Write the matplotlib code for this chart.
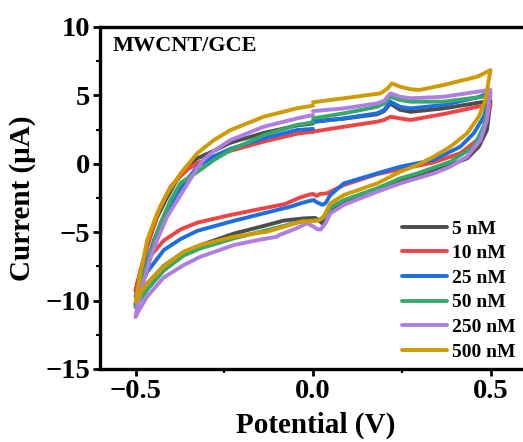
import matplotlib
matplotlib.use("Agg")
import matplotlib.pyplot as plt
from matplotlib.ticker import MultipleLocator

labels = ["5 nM", "10 nM", "25 nM", "50 nM", "250 nM", "500 nM"]
colors = ["#4d4d4d", "#f04444", "#1d6fe0", "#35a96a", "#b07ee2", "#cf9b00"]

# scan order: 0 V -> +0.5 V (upper) -> -0.5 V (lower) -> 0 V (upper)
v_5 = [0.0, 0.087, 0.181, 0.2, 0.218, 0.245, 0.275, 0.368, 0.463, 0.5,
       0.49, 0.467, 0.434, 0.387, 0.294, 0.246, 0.181, 0.087, 0.049, 0.035, 0.026, 0.015, 0.005, -0.03, -0.082, -0.14, -0.223, -0.317, -0.364, -0.42, -0.467, -0.495, -0.5,
       -0.495, -0.486, -0.467, -0.439, -0.411, -0.383, -0.35, -0.326, -0.279, -0.232, -0.139, -0.045, 0.0]
i_5 = [3.1, 3.3, 3.62, 3.85, 4.4, 3.95, 3.8, 4.05, 4.45, 4.6,
       2.47, 1.25, 0.4, -0.09, -0.82, -1.18, -1.95, -2.77, -3.33, -3.7, -4.35, -4.1, -3.95, -4.0, -4.15, -4.55, -5.1, -5.95, -6.45, -7.45, -8.75, -9.9, -10.3,
       -9.6, -8.3, -5.9, -3.9, -2.45, -1.15, -0.15, 0.4, 0.95, 1.55, 2.25, 2.8, 2.95]

v_10 = [0.0, 0.087, 0.181, 0.2, 0.218, 0.245, 0.275, 0.368, 0.463, 0.5,
        0.486, 0.463, 0.415, 0.34, 0.275, 0.181, 0.087, 0.049, 0.04, 0.02, 0.01, 0.0, -0.01, -0.035, -0.08, -0.139, -0.232, -0.326, -0.373, -0.42, -0.467, -0.495, -0.5,
        -0.495, -0.486, -0.458, -0.43, -0.401, -0.373, -0.35, -0.326, -0.279, -0.232, -0.139, -0.045, 0.0]
i_10 = [2.35, 2.71, 3.08, 3.2, 3.44, 3.32, 3.2, 3.64, 4.17, 4.3,
        2.96, 1.74, 0.77, 0.1, -0.25, -0.75, -1.55, -2.04, -2.16, -2.2, -2.35, -2.2, -2.25, -2.45, -2.95, -3.25, -3.74, -4.3, -4.8, -5.6, -7.0, -8.7, -9.3,
        -8.8, -7.76, -5.33, -3.13, -1.67, -0.9, -0.35, 0.05, 0.55, 0.95, 1.62, 2.2, 2.35]

v_25 = [0.0, 0.087, 0.181, 0.2, 0.218, 0.245, 0.275, 0.368, 0.463, 0.5,
        0.495, 0.481, 0.453, 0.415, 0.34, 0.246, 0.181, 0.087, 0.049, 0.035, 0.026, 0.01, 0.002, -0.015, -0.035, -0.063, -0.139, -0.232, -0.326, -0.373, -0.42, -0.467, -0.486, -0.5,
        -0.495, -0.477, -0.448, -0.42, -0.383, -0.35, -0.326, -0.279, -0.232, -0.139, -0.045, 0.0]
i_25 = [3.05, 3.32, 3.69, 3.93, 4.54, 4.17, 4.05, 4.3, 4.85, 5.2,
        4.66, 3.44, 2.23, 1.25, 0.28, -0.21, -0.7, -1.43, -2.28, -2.89, -3.0, -2.8, -2.65, -2.75, -2.89, -3.13, -3.62, -4.23, -4.9, -5.5, -6.3, -7.9, -9.0, -9.7,
        -9.3, -8.0, -5.57, -3.87, -2.16, -1.0, -0.21, 0.55, 1.1, 1.86, 2.47, 2.55]

v_50 = [0.0, 0.087, 0.181, 0.2, 0.218, 0.245, 0.275, 0.368, 0.463, 0.5,
        0.495, 0.481, 0.453, 0.387, 0.294, 0.246, 0.181, 0.087, 0.049, 0.03, 0.021, -0.035, -0.129, -0.223, -0.317, -0.364, -0.42, -0.467, -0.49, -0.5,
        -0.495, -0.48, -0.458, -0.43, -0.40, -0.373, -0.326, -0.279, -0.232, -0.139, -0.045, 0.0]
i_50 = [3.32, 3.69, 4.17, 4.4, 4.9, 4.66, 4.54, 4.54, 4.85, 4.95,
        4.5, 2.71, 1.25, 0.15, -0.7, -1.06, -1.79, -2.65, -3.2, -3.9, -4.1, -4.23, -4.84, -5.45, -6.18, -6.7, -7.8, -9.2, -10.1, -10.5,
        -9.8, -8.5, -6.5, -4.35, -2.6, -1.4, -0.6, 0.28, 1.0, 2.1, 2.84, 3.03]

v_250 = [0.0, 0.087, 0.181, 0.2, 0.218, 0.245, 0.275, 0.368, 0.463, 0.5,
         0.49, 0.472, 0.434, 0.387, 0.34, 0.246, 0.181, 0.087, 0.049, 0.035, 0.021, 0.01, 0.002, -0.017, -0.045, -0.082, -0.095, -0.101, -0.15, -0.223, -0.317, -0.364, -0.42, -0.467, -0.49, -0.5,
         -0.495, -0.477, -0.458, -0.439, -0.411, -0.373, -0.326, -0.308, -0.279, -0.232, -0.139, -0.045, 0.0]
i_250 = [3.85, 4.05, 4.42, 4.6, 5.15, 4.9, 4.79, 4.9, 5.27, 5.4,
         3.2, 1.74, 0.52, -0.21, -0.7, -1.43, -2.04, -3.0, -3.62, -4.35, -4.82, -4.75, -4.6, -4.35, -4.7, -5.08, -5.2, -5.33, -5.55, -5.94, -6.79, -7.4, -8.3, -9.7, -10.7, -11.2,
         -10.5, -8.6, -6.9, -5.57, -3.87, -2.28, -0.3, 0.3, 0.95, 1.74, 2.71, 3.32, 3.57]

v_500 = [0.0, 0.087, 0.19, 0.21, 0.222, 0.245, 0.275, 0.3, 0.368, 0.463, 0.5,
         0.495, 0.486, 0.467, 0.434, 0.387, 0.34, 0.294, 0.246, 0.181, 0.087, 0.049, 0.03, 0.015, -0.035, -0.082, -0.129, -0.223, -0.317, -0.364, -0.42, -0.467, -0.486, -0.5,
         -0.495, -0.486, -0.467, -0.439, -0.411, -0.373, -0.326, -0.279, -0.232, -0.139, -0.045, 0.0]
i_500 = [4.5, 4.79, 5.15, 5.5, 5.88, 5.64, 5.45, 5.4, 5.76, 6.37, 6.85,
         6.1, 4.66, 3.44, 2.23, 1.25, 0.52, -0.09, -0.58, -1.43, -2.28, -2.89, -3.86, -4.15, -4.23, -4.6, -4.96, -5.33, -5.94, -6.42, -7.5, -8.74, -9.47, -10.1,
         -9.4, -8.0, -5.57, -3.62, -2.16, -0.7, 0.77, 1.74, 2.47, 3.44, 4.06, 4.25]

series_v = [v_5, v_10, v_25, v_50, v_250, v_500]
series_i = [i_5, i_10, i_25, i_50, i_250, i_500]

x_ticks = [-0.5, 0.0, 0.5]
y_ticks = [-15, -10, -5, 0, 5, 10]
x_ticklabels = ["\u22120.5", "0.0", "0.5"]
y_ticklabels = ["\u221215", "\u221210", "\u22125", "0", "5", "10"]

plt.rcParams['font.family'] = ['Liberation Serif', 'DejaVu Serif']
plt.rcParams['font.weight'] = 'bold'

fig = plt.figure(figsize=(5.23, 4.42), dpi=100)
ax = fig.add_axes([100/523, 1 - 369/442, 432/523, 342/442])

for v, cur, c, lab in zip(series_v, series_i, colors, labels):
    ax.plot(v, cur, color=c, lw=2.8, label=lab, solid_joinstyle='round', solid_capstyle='round')

ax.set_xlim(-0.6, -0.6 + 432/355)
ax.set_ylim(-15, 10)
ax.set_xticks(x_ticks)
ax.set_yticks(y_ticks)
ax.set_xticklabels(x_ticklabels)
ax.set_yticklabels(y_ticklabels)
ax.xaxis.set_minor_locator(MultipleLocator(0.25))
ax.yaxis.set_minor_locator(MultipleLocator(2.5))
ax.tick_params(which='major', direction='out', length=5, width=2, labelsize=20.5, pad=2)
ax.tick_params(which='minor', direction='out', length=3, width=1.5)
for lab in ax.get_xticklabels() + ax.get_yticklabels():
    lab.set_fontweight('bold')
for s in ax.spines.values():
    s.set_linewidth(2.4)
ax.spines['right'].set_visible(False)

ax.set_xlabel("Potential (V)", fontsize=21, fontweight='bold', labelpad=6)
ax.set_ylabel("Current (\u03bcA)", fontsize=21, fontweight='bold', labelpad=7)

ax.text(113/523, 1 - 46/442, "MWCNT/GCE", transform=fig.transFigure,
        fontsize=16, fontweight='bold', va='center', ha='left')

leg = fig.legend(loc='upper left', bbox_to_anchor=(402/523, 1 - 220/442),
                 frameon=False, fontsize=14, handlelength=2.3, handletextpad=0.25,
                 labelspacing=0.36, borderpad=0, borderaxespad=0)
for t in leg.get_texts():
    t.set_fontweight('bold')

fig.savefig("out.png", dpi=100)
